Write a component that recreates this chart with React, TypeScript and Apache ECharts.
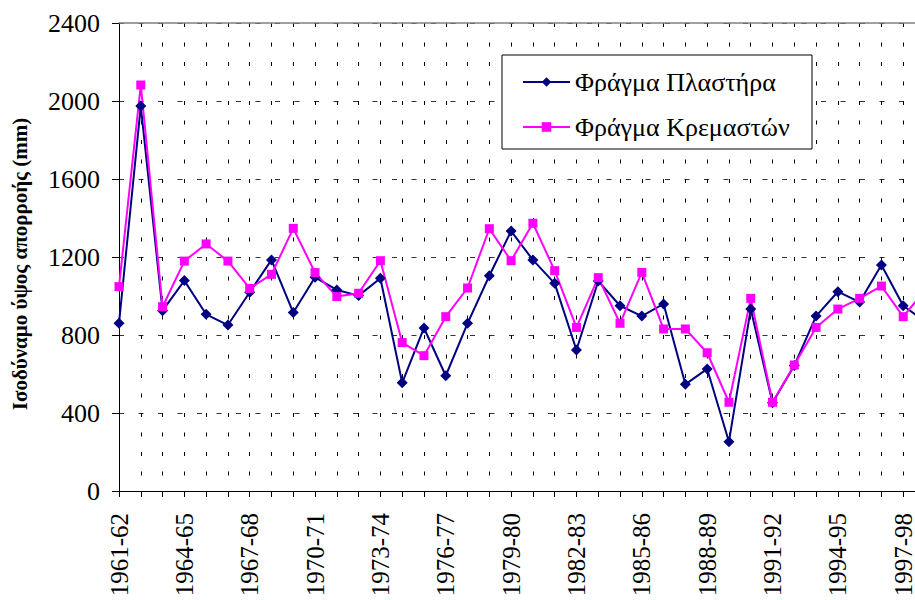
import React, { useEffect, useRef } from "react";
import * as echarts from "echarts";

const categories = [
  "1961-62", "1962-63", "1963-64", "1964-65", "1965-66", "1966-67", "1967-68", "1968-69",
  "1969-70", "1970-71", "1971-72", "1972-73", "1973-74", "1974-75", "1975-76", "1976-77",
  "1977-78", "1978-79", "1979-80", "1980-81", "1981-82", "1982-83", "1983-84", "1984-85",
  "1985-86", "1986-87", "1987-88", "1988-89", "1989-90", "1990-91", "1991-92", "1992-93",
  "1993-94", "1994-95", "1995-96", "1996-97", "1997-98", "1998-99",
];

const plastira = [
  860, 1974, 925, 1079, 906, 851, 1019, 1185, 915, 1096, 1031, 1002, 1091, 555, 836, 591,
  860, 1104, 1333, 1185, 1065, 723, 1077, 950, 897, 959, 547, 626, 253, 933, 453, 643,
  897, 1022, 969, 1159, 950, 870,
];

const kremaston = [
  1048, 2082, 945, 1179, 1267, 1179, 1039, 1111, 1347, 1120, 997, 1014, 1181, 761, 694, 894,
  1041, 1345, 1181, 1373, 1130, 839, 1094, 860, 1121, 831, 831, 709, 455, 988, 455, 646,
  839, 933, 988, 1051, 894, 1030,
];

const seriesNames = ["Φράγμα Πλαστήρα", "Φράγμα Κρεμαστών"];
const yAxisTitle = "Ισοδύναμο ύψος απορροής (mm)";

const FONT = "Liberation Serif, Times New Roman, serif";

export default function App() {
  const ref = useRef<HTMLDivElement>(null);

  useEffect(() => {
    if (!ref.current) return;
    const chart = echarts.init(ref.current, undefined, { renderer: "svg" });
    chart.setOption({
      animation: false,
      backgroundColor: "#ffffff",
      textStyle: { fontFamily: FONT },
      grid: { left: 119, right: 15, top: 23, bottom: 109, outerBoundsMode: "none" },
      xAxis: [
        {
          type: "category",
          data: categories,
          boundaryGap: false,
          axisLine: { lineStyle: { color: "#000", width: 1 } },
          axisTick: { show: true, interval: 0, length: 6, lineStyle: { color: "#000" } },
          axisLabel: {
            interval: 2,
            rotate: 90,
            margin: 22,
            fontSize: 25,
            lineHeight: 19,
            color: "#000",
            fontFamily: FONT,
          },
          splitLine: {
            show: true,
            interval: 0,
            lineStyle: { color: "#000", width: 1, type: [4, 15.5] },
          },
        },
        {
          type: "category",
          data: categories,
          position: "top",
          boundaryGap: false,
          axisLine: { show: true, onZero: false, lineStyle: { color: "#808080", width: 1.5 } },
          axisTick: { show: false },
          axisLabel: { show: false },
          splitLine: { show: false },
        },
      ],
      yAxis: {
        type: "value",
        min: 0,
        max: 2400,
        interval: 400,
        axisLine: { show: true, lineStyle: { color: "#000", width: 1 } },
        axisTick: { show: true, length: 7, lineStyle: { color: "#000" } },
        axisLabel: {
          margin: 19,
          fontSize: 26,
          color: "#000",
          fontFamily: FONT,
          formatter: (v: number) => String(v),
        },
        splitLine: { show: true, lineStyle: { color: "#333", width: 1, type: [5, 14.5] } },
      },
      legend: {
        orient: "vertical",
        left: 522,
        top: 69,
        padding: 0,
        itemWidth: 47,
        itemHeight: 12,
        itemGap: 19,
        z: 4,
        textStyle: { fontSize: 26, color: "#000", fontFamily: FONT },
        data: seriesNames,
      },
      graphic: [
        {
          type: "rect",
          z: 3,
          shape: { x: 502, y: 55, width: 310, height: 94 },
          style: { fill: "#fff", stroke: "#000", lineWidth: 1 },
        },
        {
          type: "text",
          z: 3,
          x: 20,
          y: 264,
          rotation: Math.PI / 2,
          style: {
            text: yAxisTitle,
            fontSize: 21,
            fontWeight: "bold",
            fontFamily: FONT,
            fill: "#000",
            align: "center",
            verticalAlign: "middle",
          },
        },
      ],
      series: [
        {
          name: seriesNames[0],
          type: "line",
          data: plastira,
          symbol: "diamond",
          symbolSize: 11,
          lineStyle: { color: "#000080", width: 2 },
          itemStyle: { color: "#000080" },
          z: 2,
        },
        {
          name: seriesNames[1],
          type: "line",
          data: kremaston,
          symbol: "rect",
          symbolSize: 9,
          lineStyle: { color: "#ff00ff", width: 2 },
          itemStyle: { color: "#ff00ff" },
          z: 2,
        },
      ],
    });
    return () => chart.dispose();
  }, []);

  return (
    <div
      style={{
        position: "fixed",
        left: 0,
        top: 0,
        width: 915,
        height: 600,
        overflow: "hidden",
        background: "#fff",
      }}
    >
      <div ref={ref} style={{ width: 940, height: 600 }} />
    </div>
  );
}
